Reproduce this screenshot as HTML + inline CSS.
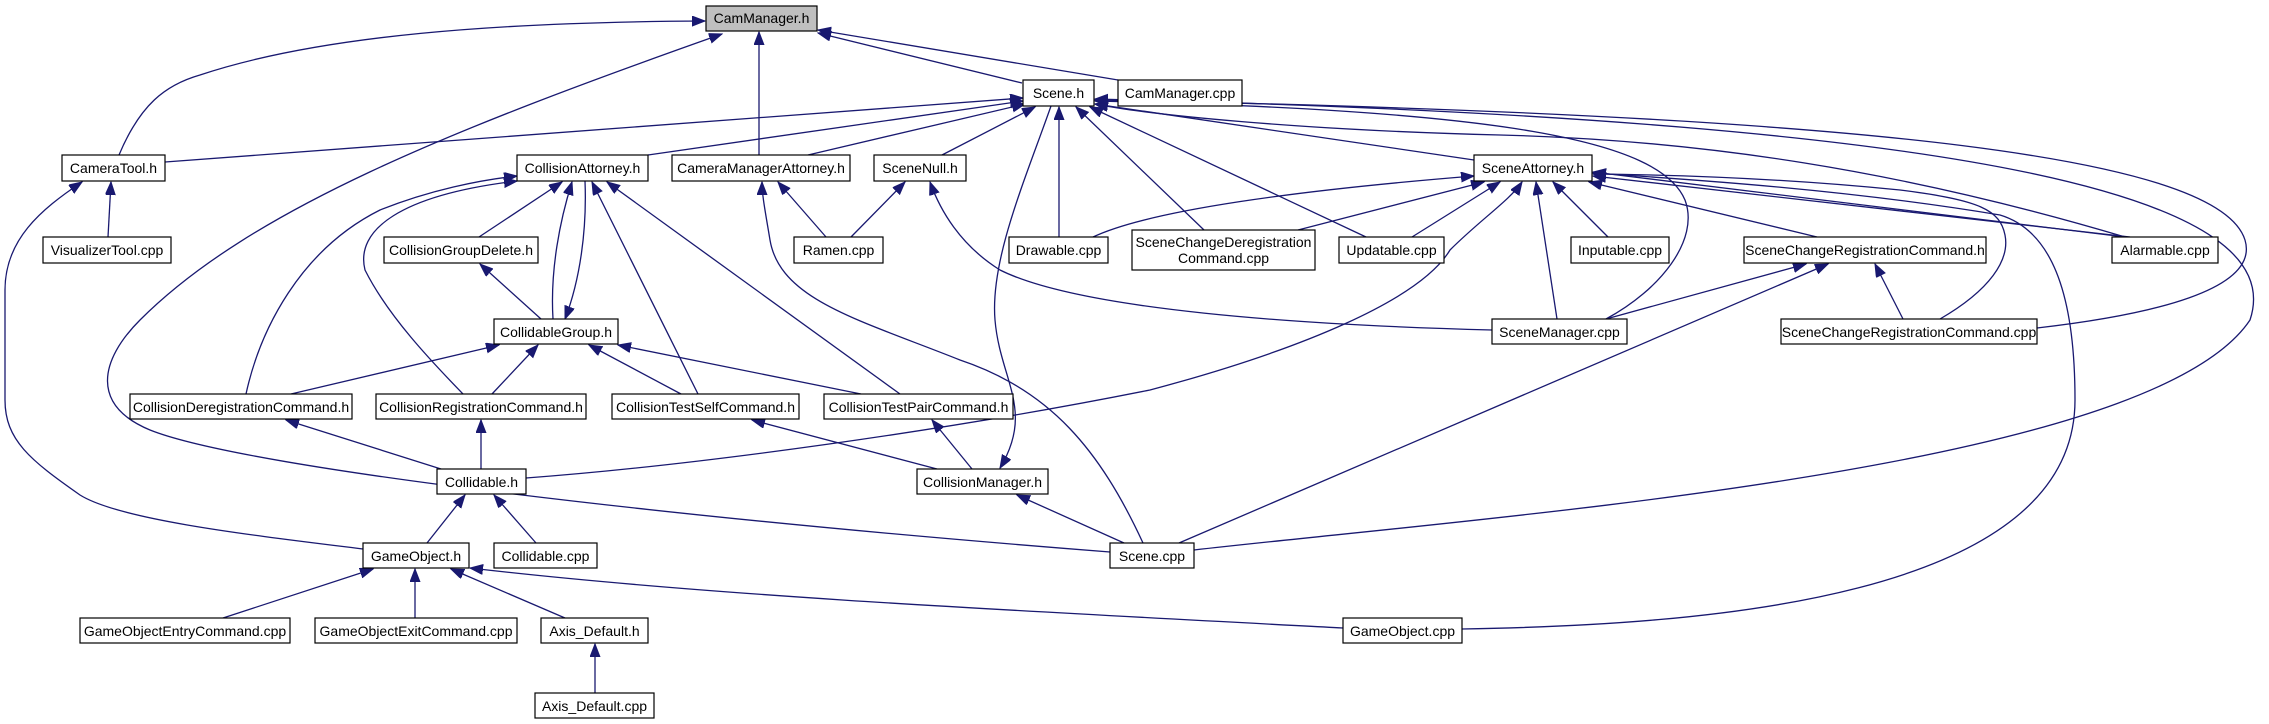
<!DOCTYPE html>
<html><head><meta charset="utf-8"><style>
html,body{margin:0;padding:0;background:#fff;}
svg{display:block;}
text{font-family:"Liberation Sans Narrow","Liberation Sans",sans-serif;font-size:14px;fill:#000;}
.e{fill:none;stroke:#191970;stroke-width:1.3;}
.n{fill:#fff;stroke:#000;stroke-width:1.2;}
</style></head><body>
<svg width="2269" height="724" viewBox="0 0 2269 724" xmlns="http://www.w3.org/2000/svg">
<defs>
<marker id="a" markerUnits="userSpaceOnUse" markerWidth="14" markerHeight="12" refX="13" refY="5" orient="auto">
<path d="M0,0 L13,5 L0,10 Z" fill="#191970" stroke="#191970"/>
</marker>
</defs>
<g marker-end="url(#a)">
<path class="e" d="M119,155 C140,105 165,85 200,75 C320,35 500,22 705,21"/>
<path class="e" d="M1110,552 C700,520 250,470 150,430 C90,405 100,360 140,320 C250,210 450,130 722,34"/>
<path class="e" d="M759,155 L759,32"/>
<path class="e" d="M1022,83 L818,33"/>
<path class="e" d="M1118,80 L818,30"/>
<path class="e" d="M165,162 L1023,98"/>
<path class="e" d="M648,155 L1023,101"/>
<path class="e" d="M808,155 L1025,104"/>
<path class="e" d="M942,155 L1035,107"/>
<path class="e" d="M1051,106 C1025,180 990,260 995,320 C1000,380 1035,410 1000,468"/>
<path class="e" d="M1059,237 L1059,107"/>
<path class="e" d="M1204,230 L1076,107"/>
<path class="e" d="M1366,237 L1090,107"/>
<path class="e" d="M1474,160 L1095,104"/>
<path class="e" d="M1606,319 C1660,290 1700,240 1685,200 C1660,140 1500,110 1095,101"/>
<path class="e" d="M2125,237 C1900,170 1700,140 1500,135 C1300,130 1150,115 1095,104"/>
<path class="e" d="M2037,328 C2150,315 2260,290 2245,240 C2220,160 1900,115 1095,100"/>
<path class="e" d="M1194,550 C1500,515 2150,470 2250,320 C2290,200 2000,120 1095,99"/>
<path class="e" d="M1462,629 C1700,625 2075,600 2075,400 C2075,290 2050,230 2000,215 C1850,190 1700,180 1593,173"/>
<path class="e" d="M2125,237 L1593,172"/>
<path class="e" d="M2130,237 L1593,176"/>
<path class="e" d="M1940,319 C1990,290 2010,260 2005,235 C2000,210 1980,200 1900,190 C1800,180 1700,175 1593,174"/>
<path class="e" d="M1817,237 L1589,182"/>
<path class="e" d="M1608,237 L1553,182"/>
<path class="e" d="M1557,319 L1536,182"/>
<path class="e" d="M1093,237 C1150,210 1300,190 1474,176"/>
<path class="e" d="M1298,230 L1484,182"/>
<path class="e" d="M1412,237 L1500,182"/>
<path class="e" d="M526,478 C700,465 950,430 1150,390 C1300,350 1420,300 1450,250 C1480,220 1510,200 1522,182"/>
<path class="e" d="M1606,319 L1806,264"/>
<path class="e" d="M1179,543 L1828,264"/>
<path class="e" d="M1903,319 L1875,264"/>
<path class="e" d="M851,237 L905,182"/>
<path class="e" d="M1492,330 C1300,325 1080,310 1000,270 C960,245 940,210 930,182"/>
<path class="e" d="M826,237 L778,182"/>
<path class="e" d="M1143,543 C1100,450 1050,390 960,360 C860,320 780,300 770,240 C765,210 762,195 762,182"/>
<path class="e" d="M479,237 L562,182"/>
<path class="e" d="M553,319 C550,270 560,220 572,182"/>
<path class="e" d="M585,181 C587,230 580,280 565,319"/>
<path class="e" d="M698,394 L592,182"/>
<path class="e" d="M900,394 L607,182"/>
<path class="e" d="M246,394 C260,330 300,250 380,210 C430,190 480,180 517,176"/>
<path class="e" d="M463,394 C440,370 390,320 365,270 C355,230 400,195 517,181"/>
<path class="e" d="M541,319 L480,264"/>
<path class="e" d="M291,394 L499,345"/>
<path class="e" d="M492,394 L538,345"/>
<path class="e" d="M681,394 L589,345"/>
<path class="e" d="M861,394 L618,345"/>
<path class="e" d="M441,469 L286,420"/>
<path class="e" d="M481,469 L481,420"/>
<path class="e" d="M427,543 L465,495"/>
<path class="e" d="M536,543 L494,495"/>
<path class="e" d="M937,469 L752,420"/>
<path class="e" d="M972,469 L932,420"/>
<path class="e" d="M1124,543 L1017,495"/>
<path class="e" d="M363,549 C250,535 120,520 80,495 C30,460 5,440 5,400 L5,290 C5,240 40,210 82,182"/>
<path class="e" d="M223,618 L373,569"/>
<path class="e" d="M415,618 L415,569"/>
<path class="e" d="M565,618 L451,569"/>
<path class="e" d="M1343,628 C1000,610 700,595 470,568"/>
<path class="e" d="M595,693 L595,644"/>
<path class="e" d="M108,237 L111,182"/>
</g>
<g>
<rect x="706" y="6" width="111" height="25" fill="#bfbfbf" stroke="#000" stroke-width="1.2"/>
<text x="761.5" y="23" text-anchor="middle">CamManager.h</text>
</g>
<g id="nodes">
<rect class="n" x="1023" y="80" width="71" height="26"/><text x="1058.5" y="98" text-anchor="middle">Scene.h</text>
<rect class="n" x="1118" y="80" width="124" height="26"/><text x="1180" y="98" text-anchor="middle">CamManager.cpp</text>
<rect class="n" x="62" y="155" width="103" height="26"/><text x="113.5" y="173" text-anchor="middle">CameraTool.h</text>
<rect class="n" x="517" y="155" width="131" height="26"/><text x="582.5" y="173" text-anchor="middle">CollisionAttorney.h</text>
<rect class="n" x="672" y="155" width="178" height="26"/><text x="761" y="173" text-anchor="middle">CameraManagerAttorney.h</text>
<rect class="n" x="874" y="155" width="92" height="26"/><text x="920" y="173" text-anchor="middle">SceneNull.h</text>
<rect class="n" x="1474" y="155" width="118" height="26"/><text x="1533" y="173" text-anchor="middle">SceneAttorney.h</text>
<rect class="n" x="43" y="237" width="128" height="26"/><text x="107" y="255" text-anchor="middle">VisualizerTool.cpp</text>
<rect class="n" x="384" y="237" width="154" height="26"/><text x="461" y="255" text-anchor="middle">CollisionGroupDelete.h</text>
<rect class="n" x="794" y="237" width="89" height="26"/><text x="838.5" y="255" text-anchor="middle">Ramen.cpp</text>
<rect class="n" x="1009" y="237" width="99" height="26"/><text x="1058.5" y="255" text-anchor="middle">Drawable.cpp</text>
<rect class="n" x="1132" y="230" width="183" height="40"/><text x="1223.5" y="247" text-anchor="middle">SceneChangeDeregistration</text><text x="1223.5" y="263" text-anchor="middle">Command.cpp</text>
<rect class="n" x="1339" y="237" width="105" height="26"/><text x="1391.5" y="255" text-anchor="middle">Updatable.cpp</text>
<rect class="n" x="1571" y="237" width="98" height="26"/><text x="1620" y="255" text-anchor="middle">Inputable.cpp</text>
<rect class="n" x="1744" y="237" width="242" height="26"/><text x="1865" y="255" text-anchor="middle">SceneChangeRegistrationCommand.h</text>
<rect class="n" x="2112" y="237" width="106" height="26"/><text x="2165" y="255" text-anchor="middle">Alarmable.cpp</text>
<rect class="n" x="494" y="319" width="124" height="25"/><text x="556" y="337" text-anchor="middle">CollidableGroup.h</text>
<rect class="n" x="1492" y="319" width="135" height="25"/><text x="1559.5" y="337" text-anchor="middle">SceneManager.cpp</text>
<rect class="n" x="1781" y="319" width="256" height="25"/><text x="1909" y="337" text-anchor="middle">SceneChangeRegistrationCommand.cpp</text>
<rect class="n" x="130" y="394" width="222" height="25"/><text x="241" y="412" text-anchor="middle">CollisionDeregistrationCommand.h</text>
<rect class="n" x="376" y="394" width="210" height="25"/><text x="481" y="412" text-anchor="middle">CollisionRegistrationCommand.h</text>
<rect class="n" x="612" y="394" width="187" height="25"/><text x="705.5" y="412" text-anchor="middle">CollisionTestSelfCommand.h</text>
<rect class="n" x="824" y="394" width="189" height="25"/><text x="918.5" y="412" text-anchor="middle">CollisionTestPairCommand.h</text>
<rect class="n" x="437" y="469" width="89" height="25"/><text x="481.5" y="487" text-anchor="middle">Collidable.h</text>
<rect class="n" x="917" y="469" width="131" height="25"/><text x="982.5" y="487" text-anchor="middle">CollisionManager.h</text>
<rect class="n" x="363" y="543" width="106" height="25"/><text x="416" y="561" text-anchor="middle">GameObject.h</text>
<rect class="n" x="494" y="543" width="103" height="25"/><text x="545.5" y="561" text-anchor="middle">Collidable.cpp</text>
<rect class="n" x="1110" y="543" width="84" height="25"/><text x="1152" y="561" text-anchor="middle">Scene.cpp</text>
<rect class="n" x="80" y="618" width="210" height="25"/><text x="185" y="636" text-anchor="middle">GameObjectEntryCommand.cpp</text>
<rect class="n" x="315" y="618" width="202" height="25"/><text x="416" y="636" text-anchor="middle">GameObjectExitCommand.cpp</text>
<rect class="n" x="541" y="618" width="107" height="25"/><text x="594.5" y="636" text-anchor="middle">Axis_Default.h</text>
<rect class="n" x="1343" y="618" width="119" height="25"/><text x="1402.5" y="636" text-anchor="middle">GameObject.cpp</text>
<rect class="n" x="535" y="693" width="119" height="25"/><text x="594.5" y="711" text-anchor="middle">Axis_Default.cpp</text>
</g>
</svg>
</body></html>
